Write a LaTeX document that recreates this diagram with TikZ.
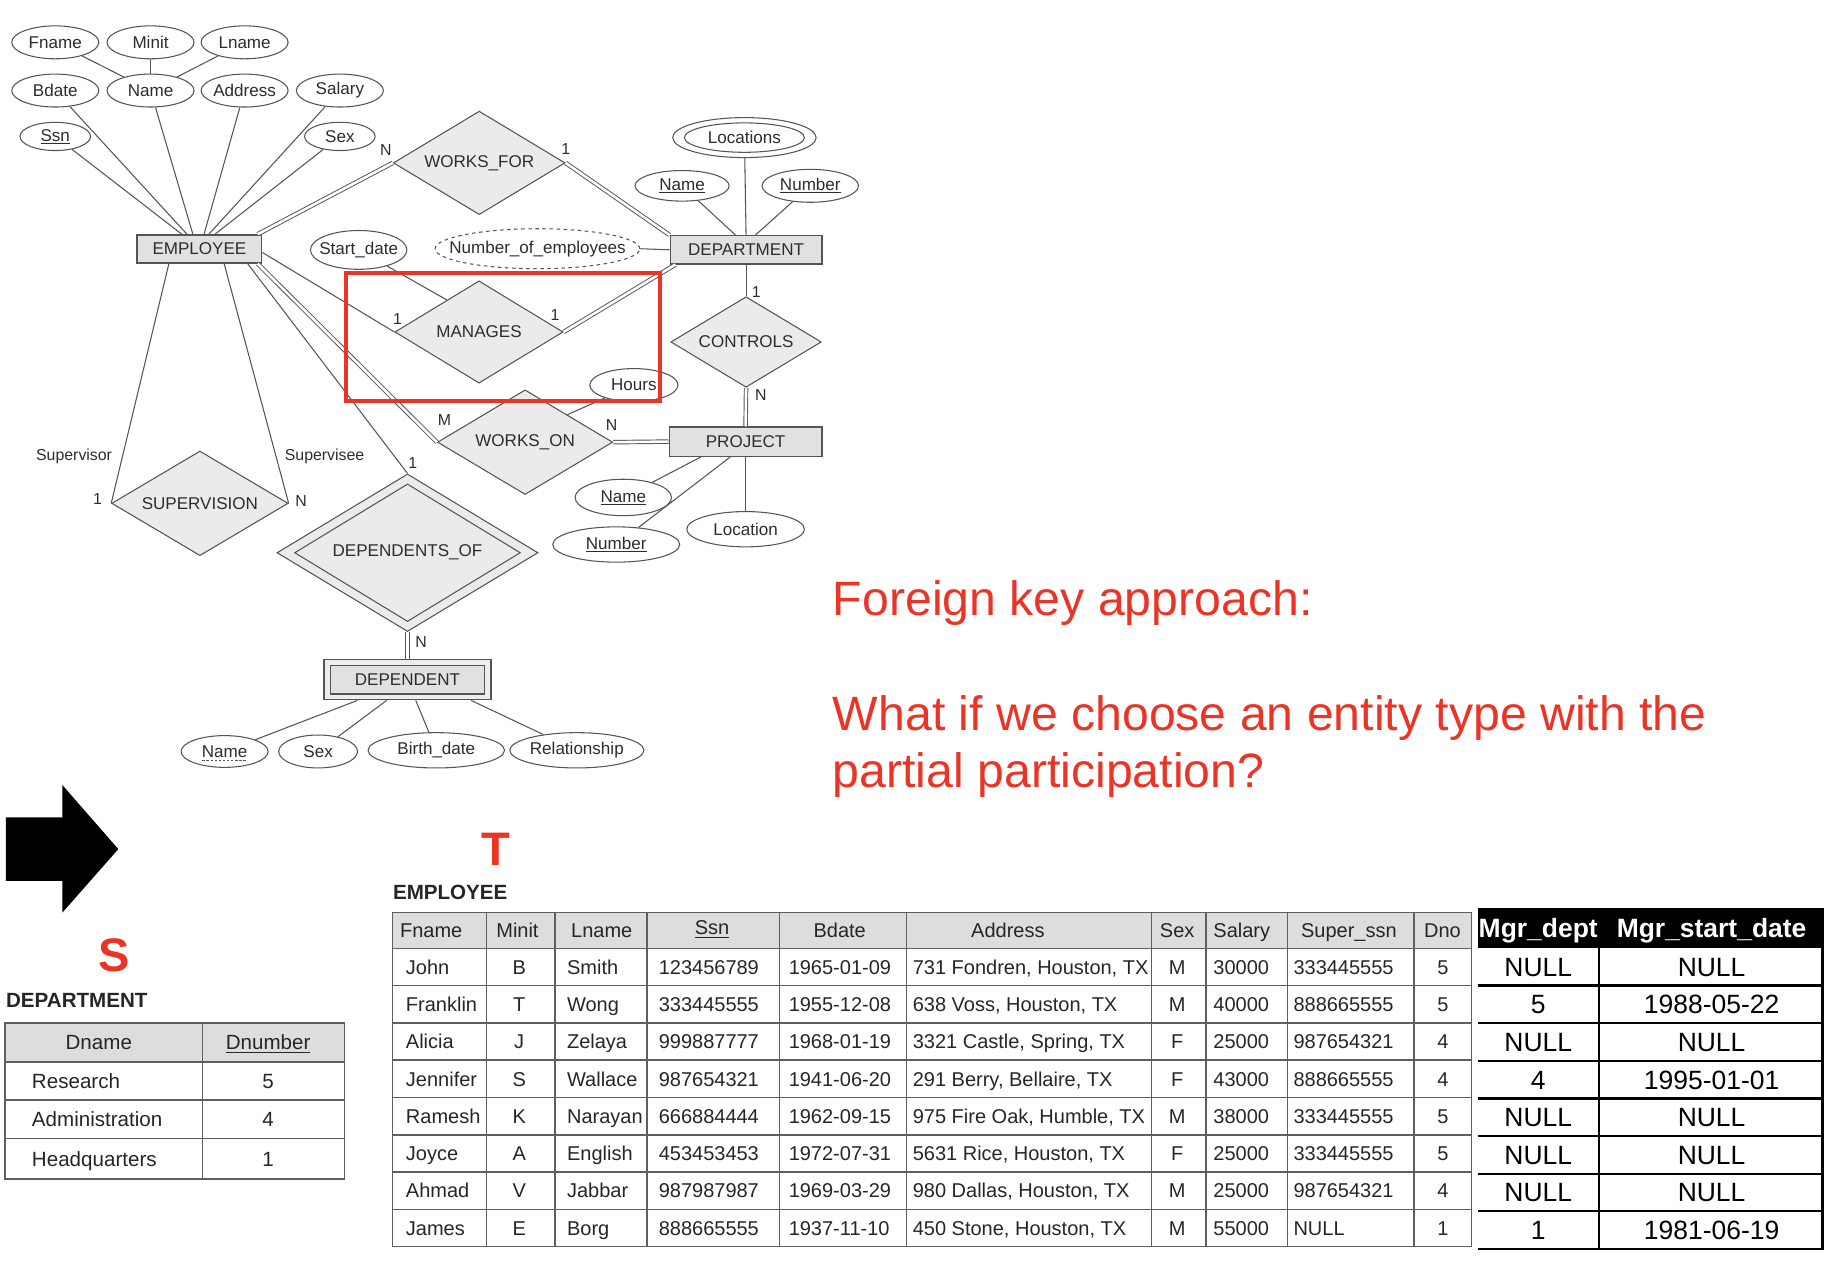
\documentclass[tikz,border=0pt]{standalone}
\usepackage{fontspec}
\setmainfont{Liberation Sans}
\usetikzlibrary{shapes.geometric,calc}
\definecolor{ln}{RGB}{85,85,85}
\definecolor{tx}{RGB}{45,45,45}
\definecolor{entfill}{RGB}{225,225,225}
\definecolor{relfill}{RGB}{237,235,234}
\definecolor{redc}{RGB}{233,52,38}
\definecolor{hdr}{RGB}{221,221,221}
\definecolor{tbl}{RGB}{95,95,95}
\newcommand{\fsz}[1]{\fontsize{#1}{#1}\selectfont}
\newcommand{\zw}[1]{\makebox[0pt][c]{#1}}
\begin{document}
\begin{tikzpicture}[x=1pt,y=-1pt,
  attr/.style={ellipse, draw=ln, line width=0.9pt, fill=white, inner sep=0pt, font=\fsz{14.5}, text=tx},
  ent/.style={rectangle, draw=ln, line width=1.1pt, fill=entfill, inner sep=0pt, font=\fsz{14.5}, text=tx},
  rel/.style={diamond, draw=ln, line width=0.9pt, fill=relfill, inner sep=0pt, font=\fsz{14.5}, text=tx},
  conn/.style={draw=ln, line width=0.9pt},
  dbl/.style={draw=ln, line width=0.8pt, double=white, double distance=2.2pt},
  card/.style={font=\fsz{13.5}, text=tx, inner sep=0pt},
  cell/.style={font=\fsz{17}, text=black!85, inner sep=0pt},
  dcell/.style={font=\fsz{17.5}, text=black!85, inner sep=0pt},
  mcell/.style={font=\fsz{22.5}, text=black, inner sep=0pt},
  tline/.style={draw=tbl, line width=1.3pt},
]
\useasboundingbox (0,0) rectangle (1568,1090);

% ---------------- ER diagram: nodes ----------------
\node[attr, minimum width=74, minimum height=28] (fname) at (47,36) {\zw{Fname}};
\node[attr, minimum width=74, minimum height=28] (minit) at (128,36) {\zw{Minit}};
\node[attr, minimum width=74, minimum height=28] (lname) at (208,36) {\zw{Lname}};
\node[attr, minimum width=74, minimum height=28] (bdate) at (47,77) {\zw{Bdate}};
\node[attr, minimum width=74, minimum height=28] (name) at (128,77) {\zw{Name}};
\node[attr, minimum width=74, minimum height=28] (addr) at (208,77) {\zw{Address}};
\node[attr, minimum width=74, minimum height=28] (salary) at (289,77) {\zw{Salary}};
\node[attr, minimum width=60, minimum height=24] (ssn) at (47,116) {\zw{\underline{Ssn}}};
\node[attr, minimum width=60, minimum height=24] (sex) at (289,116) {\zw{Sex}};

\node[ent, minimum width=106, minimum height=24] (emp) at (169.6,211.7) {\zw{EMPLOYEE}};
\node[rel, minimum width=146, minimum height=88] (wf) at (407.5,138.5) {\zw{WORKS\_FOR}};

\node[attr, minimum width=122, minimum height=34] (loc) at (633,117) {};
\node[attr, minimum width=102, minimum height=25] (locin) at (633,117) {\zw{Locations}};
\node[attr, minimum width=80, minimum height=26] (dname) at (580,158) {\zw{\underline{Name}}};
\node[attr, minimum width=82, minimum height=28] (dnum) at (689,158) {\zw{\underline{Number}}};
\node[ent, minimum width=129, minimum height=24] (dept) at (634.4,212.4) {\zw{DEPARTMENT}};

\node[attr, minimum width=82, minimum height=33] (sdate) at (305,212.5) {\zw{Start\_date}};
\node[attr, dashed, minimum width=174, minimum height=34] (noe) at (457,211.5) {\zw{Number\_of\_employees}};

\node[rel, minimum width=143, minimum height=87] (man) at (407.3,282.3) {\zw{MANAGES}};
\node[rel, minimum width=128, minimum height=77] (ctrl) at (634.4,290.8) {\zw{CONTROLS}};
\node[attr, minimum width=75, minimum height=28] (hours) at (539,327.4) {\zw{Hours}};
\node[rel, minimum width=149, minimum height=89] (won) at (446.5,376) {\zw{WORKS\_ON}};
\node[ent, minimum width=130, minimum height=25] (proj) at (634,375.5) {\zw{PROJECT}};

\node[attr, minimum width=82, minimum height=31] (pname) at (530,423) {\zw{\underline{Name}}};
\node[attr, minimum width=108, minimum height=30] (pnum) at (524,463) {\zw{\underline{Number}}};
\node[attr, minimum width=100, minimum height=30] (ploc) at (634,450) {\zw{Location}};

\node[rel, minimum width=150, minimum height=89] (sup) at (170,428) {\zw{SUPERVISION}};

\node[rel, minimum width=222, minimum height=134] (do) at (346.5,470) {};
\node[rel, minimum width=192, minimum height=117] (doin) at (346.5,470) {\zw{DEPENDENTS\_OF}};

\node[ent, fill=entfill!60, minimum width=142, minimum height=34] (dep) at (346.5,578) {};
\node[ent, minimum width=131, minimum height=24] (depin) at (346.5,578) {\zw{DEPENDENT}};

\node[attr, minimum width=74, minimum height=27] (dpname) at (191,639) {\zw{Name}};
\draw[ln, line width=0.7pt, dash pattern=on 2pt off 1.5pt] ($(dpname.center)+(-19,7.5)$) -- ($(dpname.center)+(19,7.5)$);
\node[attr, minimum width=67, minimum height=28] (dpsex) at (270.5,639) {\zw{Sex}};
\node[attr, minimum width=116, minimum height=30] (dpbd) at (371,638) {\zw{Birth\_date}};
\node[attr, minimum width=114, minimum height=30] (dprel) at (490.5,638) {\zw{Relationship}};

% ---------------- ER diagram: connectors ----------------
\draw[conn] (fname) -- (name);
\draw[conn] (minit) -- (name);
\draw[conn] (lname) -- (name);
\draw[conn] (ssn) -- ($(emp.north)+(-15,0)$);
\draw[conn] (bdate) -- ($(emp.north)+(-10.6,0)$);
\draw[conn] (name) -- ($(emp.north)+(-5.6,0)$);
\draw[conn] (addr) -- ($(emp.north)+(3.9,0)$);
\draw[conn] (salary) -- ($(emp.north)+(8,0)$);
\draw[conn] (sex) -- ($(emp.north)+(13.2,0)$);

\draw[dbl] ($(emp.north east)+(-4,0)$) -- (wf.west);
\draw[dbl] (wf.east) -- (dept.north west);
\draw[conn] (loc) -- (dept.north);
\draw[conn] (dname) -- ($(dept.north)+(-9,0)$);
\draw[conn] (dnum) -- ($(dept.north)+(8,0)$);
\draw[conn] (noe.east) -- (dept.west);

\draw[conn] ($(emp.east)+(0,3)$) -- (man.west);
\draw[conn] (sdate) -- ($(man.west)!0.62!(man.north)$);
\draw[dbl] (man.east) -- ($(dept.south west)+(5,0)$);
\draw[conn] (dept.south) -- (ctrl.north);
\draw[dbl] (ctrl.south) -- (proj.north);

\draw[dbl] ($(emp.south east)+(-4,0)$) -- (won.west);
\draw[dbl] (won.east) -- (proj.west);
\draw[conn] (hours) -- ($(won.north)!0.48!(won.east)$);
\draw[conn] (pname) -- ($(proj.south)+(-38,0)$);
\draw[conn] (pnum) -- ($(proj.south)+(-13,0)$);
\draw[conn] (ploc) -- (proj.south);

\draw[conn] ($(emp.south)+(-26,0)$) -- (sup.west);
\draw[conn] ($(emp.south)+(21,0)$) -- (sup.east);
\draw[conn] ($(emp.south east)+(-12.5,0)$) -- (do.north);
\draw[dbl] (do.south) -- (dep.north);

\draw[conn] (dpname) -- ($(dep.south)+(-42.5,0)$);
\draw[conn] (dpsex) -- ($(dep.south)+(-17.7,0)$);
\draw[conn] (dpbd) -- ($(dep.south)+(7,0)$);
\draw[conn] (dprel) -- ($(dep.south)+(54,0)$);

% cardinalities and role names
\node[card] (c1) at (328,128) {N};
\node[card] (c2) at (481,127) {1};
\node[card] (c3) at (338,271) {1};
\node[card] (c4) at (472,268) {1};
\node[card] (c5) at (643,248) {1};
\node[card] (c6) at (647,336) {N};
\node[card] (c7) at (378,357) {M};
\node[card] (c8) at (520,361) {N};
\node[card] (c9) at (83,424) {1};
\node[card] (c10) at (256,426) {N};
\node[card] (c11) at (351,394) {1};
\node[card] (c12) at (358,546) {N};
\node[card] (r1) at (63,388) {Supervisor};
\node[card] (r2) at (276,388) {Supervisee};

% red highlight
\draw[redc, line width=3.4pt] (294,232) rectangle (561,341);

% ---------------- red question text ----------------
\node[anchor=base west, font=\fsz{41}, text=redc, inner sep=0pt] (q1) at (708,523) {Foreign key approach:};
\node[anchor=base west, font=\fsz{41}, text=redc, inner sep=0pt] (q2) at (708,621) {What if we choose an entity type with the};
\node[anchor=base west, font=\fsz{41}, text=redc, inner sep=0pt] (q3) at (708,670) {partial participation?};

% ---------------- arrow, S, T ----------------
\fill[black] (5,695) -- (53,695) -- (53,667.5) -- (100.6,722) -- (53,776) -- (53,749) -- (5,749) -- cycle;
\node[font=\bfseries\fsz{40}, text=redc, inner sep=0pt] (S) at (97.5,812) {S};
\node[font=\bfseries\fsz{40}, text=redc, inner sep=0pt] (T) at (421.5,722.5) {T};

% ---------------- DEPARTMENT table ----------------
\node[anchor=west, font=\bfseries\fsz{17.5}, text=black!85, inner sep=0pt] (dlab) at (5,851) {DEPARTMENT};
\fill[hdr] (4.3,870) rectangle (293,903);
\draw[tline] (4.3,870) rectangle (293,1002.5);
\draw[tline] (172,870) -- (172,1002.5);
\foreach \yy in {903,935.5,968} \draw[tline] (4.3,\yy) -- (293,\yy);
\node[dcell, anchor=base] (dh1) at (84,892.8) {Dname};
\node[dcell, anchor=base] (dh2) at (228,892.8) {\underline{Dnumber}};
\foreach \nm/\nu/\yb [count=\r] in {Research/5/925.5, Administration/4/958, Headquarters/1/991.5} {
  \node[dcell, anchor=base west] (dr\r a) at (27,\yb) {\nm};
  \node[dcell, anchor=base] (dr\r b) at (228,\yb) {\nu};
}

% ---------------- EMPLOYEE table ----------------
\node[anchor=west, font=\bfseries\fsz{17.5}, text=black!85, inner sep=0pt] (elab) at (334,759) {EMPLOYEE};
\fill[hdr] (333.8,775.8) rectangle (1251.4,806.4);
\draw[tline] (333.8,775.8) rectangle (1251.4,1060);
\foreach \xx in {413.5,472,550,663,771,979.3,1025.5,1094.6,1202.4} \draw[tline] (\xx,775.8) -- (\xx,1060);
\foreach \k in {0,...,7} \draw[tline] (333.8,806.4+31.7*\k) -- (1251.4,806.4+31.7*\k);
% header
\node[cell, anchor=base west] (h1) at (340,797) {Fname};
\node[cell, anchor=base] (h2) at (440,797) {Minit};
\node[cell, anchor=base west] (h3) at (485.5,797) {Lname};
\node[cell, anchor=base] (h4) at (605.5,795) {\underline{Ssn}};
\node[cell, anchor=base] (h5) at (714,797) {Bdate};
\node[cell, anchor=base] (h6) at (857,797) {Address};
\node[cell, anchor=base] (h7) at (1001,797) {Sex};
\node[cell, anchor=base west] (h8) at (1031.6,797) {Salary};
\node[cell, anchor=base] (h9) at (1147,797) {Super\_ssn};
\node[cell, anchor=base] (h10) at (1226.5,797) {Dno};
\foreach \fn/\mi/\lnm/\sn/\bd/\ad/\sx/\sa/\su/\dn [count=\r] in {
  John/B/Smith/123456789/1965-01-09/{731 Fondren, Houston, TX}/M/30000/333445555/5,
  Franklin/T/Wong/333445555/1955-12-08/{638 Voss, Houston, TX}/M/40000/888665555/5,
  Alicia/J/Zelaya/999887777/1968-01-19/{3321 Castle, Spring, TX}/F/25000/987654321/4,
  Jennifer/S/Wallace/987654321/1941-06-20/{291 Berry, Bellaire, TX}/F/43000/888665555/4,
  Ramesh/K/Narayan/666884444/1962-09-15/{975 Fire Oak, Humble, TX}/M/38000/333445555/5,
  Joyce/A/English/453453453/1972-07-31/{5631 Rice, Houston, TX}/F/25000/333445555/5,
  Ahmad/V/Jabbar/987987987/1969-03-29/{980 Dallas, Houston, TX}/M/25000/987654321/4,
  James/E/Borg/888665555/1937-11-10/{450 Stone, Houston, TX}/M/55000/NULL/1} {
  \pgfmathsetmacro\yb{806.4+(\r-0.5)*31.7+6.1}
  \node[cell, anchor=base west] (e\r a) at (345,\yb) {\fn};
  \node[cell, anchor=base] (e\r b) at (441.5,\yb) {\mi};
  \node[cell, anchor=base west] (e\r c) at (482,\yb) {\lnm};
  \node[cell, anchor=base west] (e\r d) at (560,\yb) {\sn};
  \node[cell, anchor=base west] (e\r e) at (670.5,\yb) {\bd};
  \node[cell, anchor=base west] (e\r f) at (776,\yb) {\ad};
  \node[cell, anchor=base] (e\r g) at (1001,\yb) {\sx};
  \node[cell, anchor=base west] (e\r h) at (1031.6,\yb) {\sa};
  \node[cell, anchor=base west] (e\r i) at (1099.7,\yb) {\su};
  \node[cell, anchor=base] (e\r j) at (1227,\yb) {\dn};
}

% ---------------- Mgr columns ----------------
\fill[black] (1256.4,772.4) rectangle (1551,806);
\node[mcell, anchor=base, text=white, font=\bfseries\fsz{22.5}] (m0a) at (1308,797) {Mgr\_dept};
\node[mcell, anchor=base, text=white, font=\bfseries\fsz{22.5}] (m0b) at (1455.4,797) {Mgr\_start\_date};
\foreach \k in {1,...,8} \draw[black, line width=2pt] (1256.4,806+32*\k) -- (1551,806+32*\k);
\draw[black, line width=1pt] (1359.7,806) -- (1359.7,1062);
\draw[black, line width=2.5pt] (1549.8,772.4) -- (1549.8,1063);
\foreach \ma/\mb [count=\r] in {NULL/NULL, 5/1988-05-22, NULL/NULL, 4/1995-01-01, NULL/NULL, NULL/NULL, NULL/NULL, 1/1981-06-19} {
  \pgfmathsetmacro\yb{806+(\r-0.5)*32+8}
  \node[mcell, anchor=base] (m\r a) at (1308,\yb) {\ma};
  \node[mcell, anchor=base] (m\r b) at (1455.4,\yb) {\mb};
}
\end{tikzpicture}
\end{document}
